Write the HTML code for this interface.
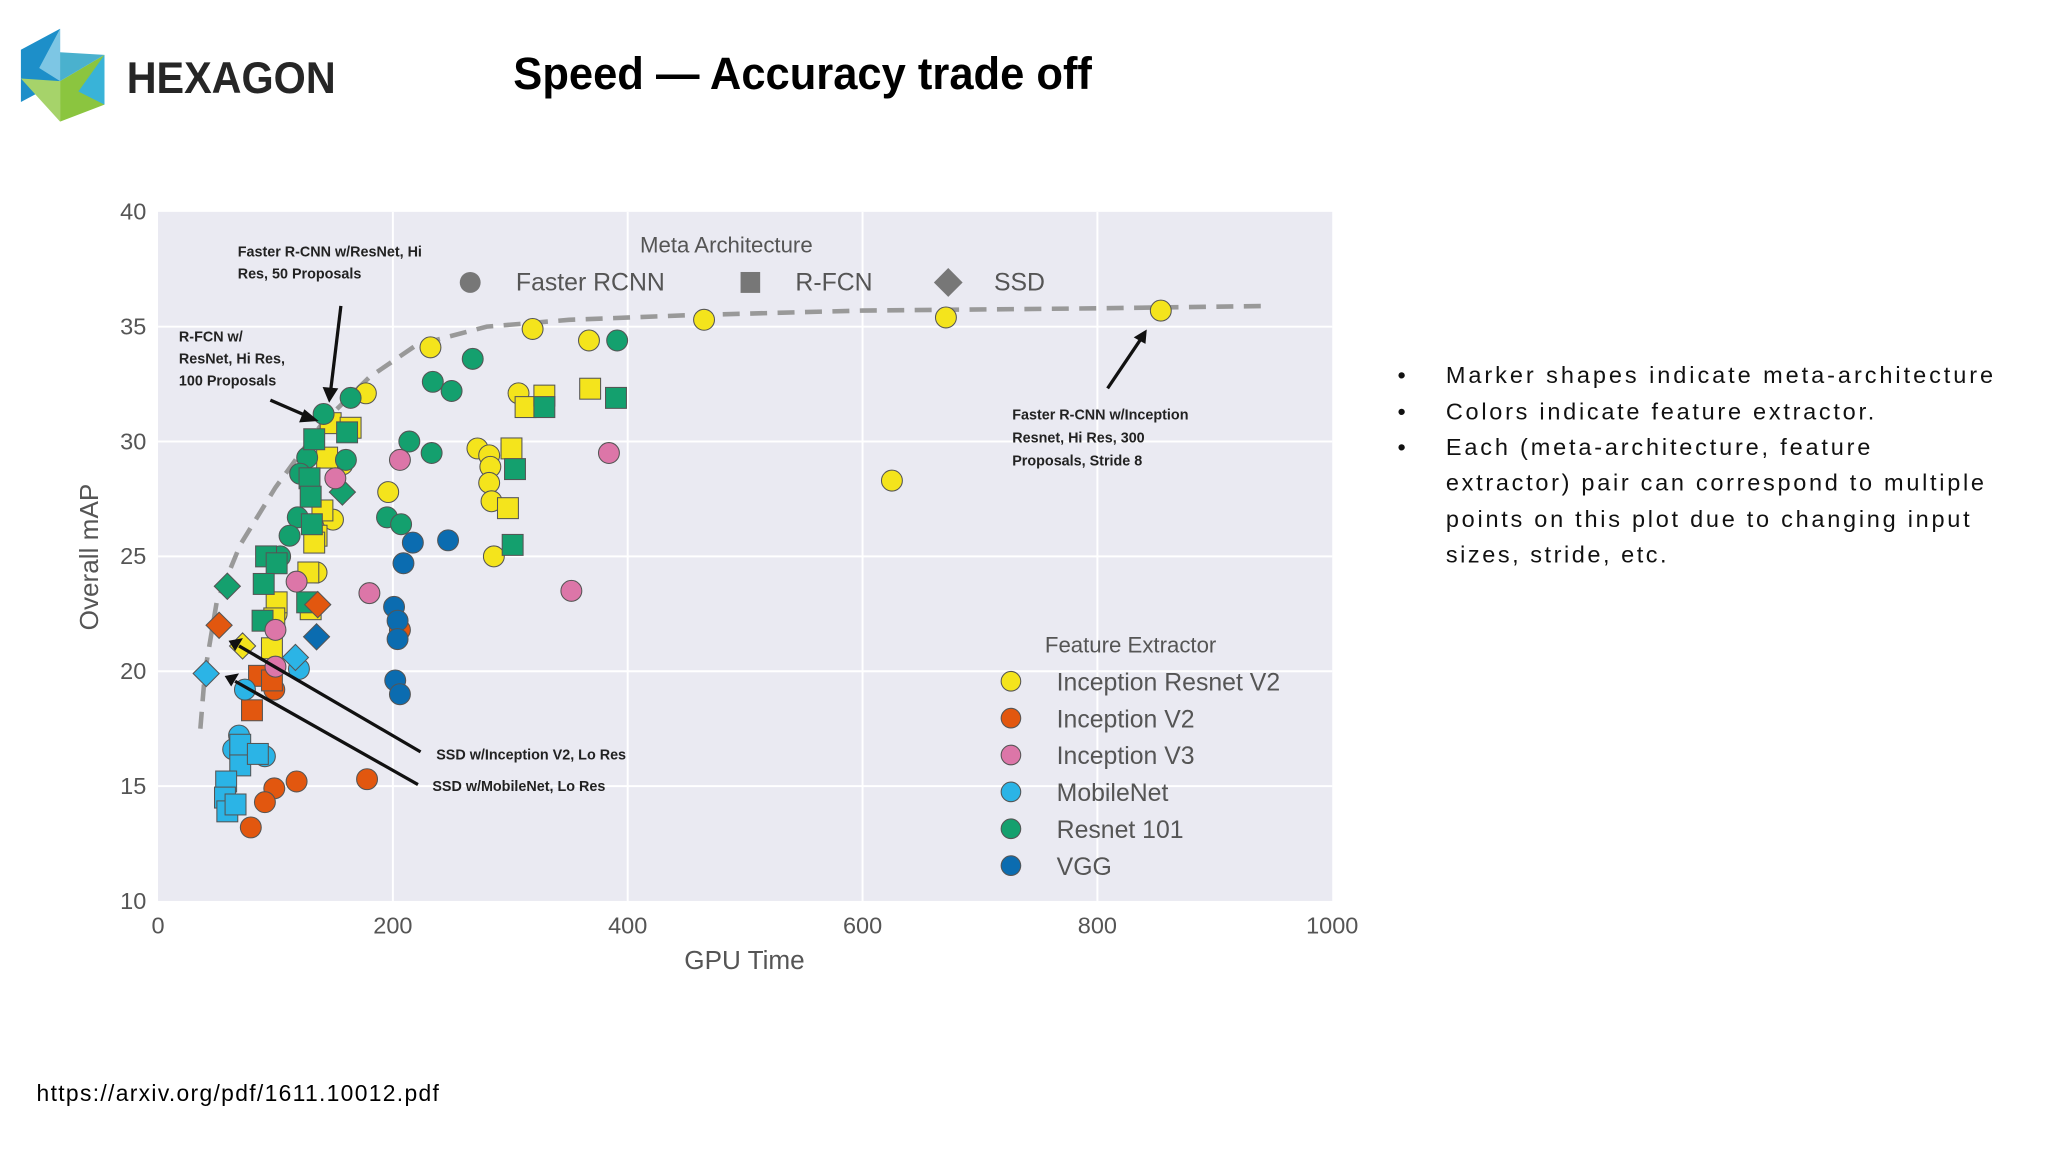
<!DOCTYPE html>
<html><head><meta charset="utf-8"><style>
html,body{margin:0;padding:0;background:#fff;}
svg{display:block;}
text{font-family:"Liberation Sans",sans-serif;}
</style></head><body>
<svg id="root" width="2048" height="1152" viewBox="0 0 1568 881" preserveAspectRatio="none" xmlns="http://www.w3.org/2000/svg">
<g>
  <polygon points="16,38 46,22 46,62 16,78" fill="#1d8fc9"/>
  <polygon points="46,22 46,62 30,52" fill="#7dc6e4"/>
  <polygon points="46,62 80,42 80,80 46,93" fill="#8bc53f"/>
  <polygon points="80,42 80,80 60,70" fill="#39b3d8"/>
  <polygon points="16,60 46,62 46,93" fill="#a6d36a"/>
  <polygon points="46,40 80,42 46,62" fill="#36a9c9" opacity="0.9"/>
  <text x="97" y="71" font-size="34" font-weight="bold" fill="#262626" textLength="160" lengthAdjust="spacingAndGlyphs">HEXAGON</text>
</g>
<text x="393" y="68" font-size="35" font-weight="bold" fill="#000" textLength="443" lengthAdjust="spacingAndGlyphs">Speed — Accuracy trade off</text>

<g id="chart">
  <rect x="121" y="162" width="899" height="527" fill="#eaeaf2"/>
  <g id="grid"></g>
  <g id="ticks"></g>
  <text x="570" y="741" font-size="20" fill="#555" text-anchor="middle">GPU Time</text>
  <text transform="translate(75,426) rotate(-90)" font-size="20" fill="#555" text-anchor="middle">Overall mAP</text>
  <path id="frontier" fill="none" stroke="#999" stroke-width="3.5" stroke-dasharray="13,8"/>
  <g id="marks"></g>
  <g>
    <text x="490" y="193" font-size="17" fill="#555">Meta Architecture</text>
    <circle cx="360" cy="216" r="8" fill="#777"/>
    <text x="395" y="222" font-size="19" fill="#555">Faster RCNN</text>
    <rect x="567" y="208" width="15" height="16" fill="#777"/>
    <text x="609" y="222" font-size="19" fill="#555">R-FCN</text>
    <polygon points="726,205 737,216 726,227 715,216" fill="#777"/>
    <text x="761" y="222" font-size="19" fill="#555">SSD</text>
  </g>
  <g id="featlegend">
    <text x="800" y="499" font-size="17" fill="#555">Feature Extractor</text>
  </g>
  <g font-size="11" font-weight="bold" fill="#222">
    <text x="182" y="196"><tspan x="182">Faster R-CNN w/ResNet, Hi</tspan><tspan x="182" dy="17">Res, 50 Proposals</tspan></text>
    <text x="137" y="261"><tspan x="137">R-FCN w/</tspan><tspan x="137" dy="17">ResNet, Hi Res,</tspan><tspan x="137" dy="17">100 Proposals</tspan></text>
    <text x="334" y="581">SSD w/Inception V2, Lo Res</text>
    <text x="331" y="605">SSD w/MobileNet, Lo Res</text>
    <text x="775" y="321"><tspan x="775">Faster R-CNN w/Inception</tspan><tspan x="775" dy="17.5">Resnet, Hi Res, 300</tspan><tspan x="775" dy="17.5">Proposals, Stride 8</tspan></text>
  </g>
  <g stroke="#111" stroke-width="2.5">
    <line x1="261" y1="234" x2="253" y2="300"/><polygon points="247,296 259,297 252,308" fill="#111" stroke="none"/>
    <line x1="207" y1="306" x2="237" y2="319"/><polygon points="233,313 229,323 244,322" fill="#111" stroke="none"/>
    <line x1="322" y1="575" x2="183" y2="494"/><polygon points="186,488 180,498 175,490" fill="#111" stroke="none"/>
    <line x1="320" y1="600" x2="180" y2="521"/><polygon points="183,515 177,525 172,517" fill="#111" stroke="none"/>
    <line x1="848" y1="297" x2="873" y2="260"/><polygon points="868,258 877,263 878,252" fill="#111" stroke="none"/>
  </g>
</g>

<g font-size="18" fill="#111">
  <text x="1070" y="293">•</text><text x="1107" y="293" textLength="419">Marker shapes indicate meta-architecture</text>
  <text x="1070" y="321">•</text><text x="1107" y="321" textLength="328">Colors indicate feature extractor.</text>
  <text x="1070" y="348">•</text><text x="1107" y="348" textLength="325">Each (meta-architecture, feature</text>
  <text x="1107" y="375" textLength="412">extractor) pair can correspond to multiple</text>
  <text x="1107" y="403" textLength="401">points on this plot due to changing input</text>
  <text x="1107" y="430" textLength="169">sizes, stride, etc.</text>
</g>
<text x="28" y="842" font-size="17.5" fill="#000" textLength="308">https://arxiv.org/pdf/1611.10012.pdf</text>
</svg>
<script>
const xTicks = [0, 200, 400, 600, 800, 1000];
const yTicks = [10, 15, 20, 25, 30, 35, 40];
const extractors = ["Inception Resnet V2", "Inception V2", "Inception V3", "MobileNet", "Resnet 101", "VGG"];
const extractorColors = ["#f4e41c", "#e2570f", "#dc76a8", "#2bb4e6", "#14a06e", "#0b6cb0"];
const frontierX = [36, 40, 50, 70, 100, 140, 180, 220, 280, 350, 450, 600, 800, 945];
const frontierY = [17.5, 20, 23, 25.5, 28, 30.8, 32.8, 34.2, 35, 35.3, 35.5, 35.7, 35.8, 35.9];
const gpuTime = [
 232,319,465,367,671,854,625,177,307,272,282,283,282,284,286,196,157,149,72,135,101,
 147,164,144,140,135,133,128,101,99,97,130,301,298,313,329,368,
 268,234,250,391,214,233,195,207,164,141,127,121,119,112,104,160,
 133,129,130,131,92,101,90,89,127,390,329,304,302,161,
 59,157,
 206,178,118,99,91,79,99,93, 80,86,97, 52,136,
 206,384,180,352,118,100,100,151,
 69,91,57,74,120,64, 70,70,58,57,59,66,85, 41,117,
 201,204,204,202,206,217,247,209, 135];
const mAP = [
 34.1,34.9,35.3,34.4,35.4,35.7,28.3,32.1,32.1,29.7,29.4,28.9,28.2,27.4,25.0,27.8,29.0,26.6,21.1,24.3,22.5,
 30.8,30.6,29.3,27.0,25.9,25.6,24.3,23.0,22.3,21.0,22.7,29.7,27.1,31.5,32.0,32.3,
 33.6,32.6,32.2,34.4,30.0,29.5,26.7,26.4,31.9,31.2,29.3,28.6,26.7,25.9,25.0,29.2,
 30.1,28.4,27.6,26.4,25.0,24.7,23.8,22.2,23.0,31.9,31.5,28.8,25.5,30.4,
 23.7,27.8,
 21.8,15.3,15.2,14.9,14.3,13.2,19.2,19.8, 18.3,19.8,19.6, 22.0,22.9,
 29.2,29.5,23.4,23.5,23.9,21.8,20.2,28.4,
 17.2,16.3,14.4,19.2,20.1,16.6, 16.8,15.9,15.2,14.5,13.9,14.2,16.4, 19.9,20.6,
 22.8,22.2,21.4,19.6,19.0,25.6,25.7,24.7, 21.5];
const extractorIdx = [
 0,0,0,0,0,0,0,0,0,0,0,0,0,0,0,0,0,0,0,0,0,
 0,0,0,0,0,0,0,0,0,0,0,0,0,0,0,0,
 4,4,4,4,4,4,4,4,4,4,4,4,4,4,4,4,
 4,4,4,4,4,4,4,4,4,4,4,4,4,4,
 4,4,
 1,1,1,1,1,1,1,1, 1,1,1, 1,1,
 2,2,2,2,2,2,2,2,
 3,3,3,3,3,3, 3,3,3,3,3,3,3, 3,3,
 5,5,5,5,5,5,5,5, 5];
const metaArch = [
 0,0,0,0,0,0,0,0,0,0,0,0,0,0,0,0,0,0,2,0,0,
 1,1,1,1,1,1,1,1,1,1,1,1,1,1,1,1,
 0,0,0,0,0,0,0,0,0,0,0,0,0,0,0,0,
 1,1,1,1,1,1,1,1,1,1,1,1,1,1,
 2,2,
 0,0,0,0,0,0,0,0, 1,1,1, 2,2,
 0,0,0,0,0,0,0,0,
 0,0,0,0,0,0, 1,1,1,1,1,1,1, 2,2,
 0,0,0,0,0,0,0,0, 2];

const NS = "http://www.w3.org/2000/svg";
const X0 = 121, X1 = 1020, Y0 = 689, Y1 = 162;
function xs(v){ return X0 + (v - 0) / 1000 * (X1 - X0); }
function ys(v){ return Y0 - (v - 10) / 30 * (Y0 - Y1); }
function mk(tag, attrs, parent){ const e = document.createElementNS(NS, tag); for (const k in attrs) e.setAttribute(k, attrs[k]); parent.appendChild(e); return e; }

const grid = document.getElementById("grid");
const ticks = document.getElementById("ticks");
xTicks.forEach(t => {
  if (t > 0 && t < 1000) {
    const l = mk("line", {x1: xs(t), x2: xs(t), y1: Y1, y2: Y0, stroke: "#fff", "stroke-width": 1.5}, grid);
    
    
  }
  const tx = mk("text", {x: xs(t), y: 714, "font-size": 18, fill: "#555", "text-anchor": "middle"}, ticks);
  tx.textContent = t;
  
  
});
yTicks.forEach(t => {
  if (t > 10 && t < 40) {
    const l = mk("line", {x1: X0, x2: X1, y1: ys(t), y2: ys(t), stroke: "#fff", "stroke-width": 1.5}, grid);
    
    
  }
  const tx = mk("text", {x: 112, y: ys(t) + 6, "font-size": 18, fill: "#555", "text-anchor": "end"}, ticks);
  tx.textContent = t;
  
  
});

let d = "";
frontierX.forEach((v, i) => { d += (i ? " L" : "M") + xs(v).toFixed(1) + "," + ys(frontierY[i]).toFixed(1); });
document.getElementById("frontier").setAttribute("d", d);

const marks = document.getElementById("marks");
gpuTime.forEach((g, i) => {
  const cx = xs(g), cy = ys(mAP[i]);
  const col = extractorColors[extractorIdx[i]];
  const m = metaArch[i];
  let el;
  if (m === 0) el = mk("circle", {cx: cx, cy: cy, r: 8}, marks);
  else if (m === 1) el = mk("rect", {x: cx - 8, y: cy - 8, width: 16, height: 16}, marks);
  else el = mk("polygon", {points: `${cx},${cy-10} ${cx+10},${cy} ${cx},${cy+10} ${cx-10},${cy}`}, marks);
  el.setAttribute("fill", col);
  el.setAttribute("stroke", "#555");
  el.setAttribute("stroke-width", "0.8");
  
  
});

const fl = document.getElementById("featlegend");
extractors.forEach((name, i) => {
  const y = 521 + i * 28.2;
  const c = mk("circle", {cx: 774, cy: y, r: 7.5, fill: extractorColors[i], stroke: "#555", "stroke-width": 0.8}, fl);
  
  
  const t = mk("text", {x: 809, y: y + 7, "font-size": 19, fill: "#555"}, fl);
  t.textContent = name;
  
  
});
</script>
</body></html>
